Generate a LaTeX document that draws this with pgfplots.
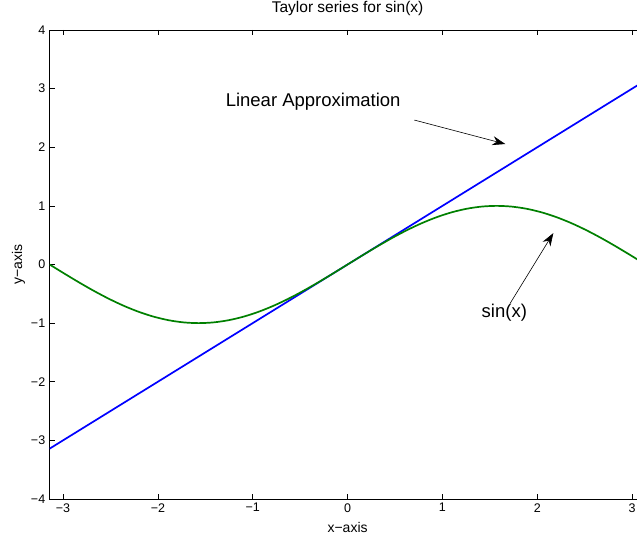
\documentclass[border=0pt]{standalone}
\usepackage{fontspec}
\setmainfont{Liberation Sans}
\usepackage{pgfplots}
\pgfplotsset{compat=1.18}
\usetikzlibrary{calc,arrows.meta}

\definecolor{mgreen}{rgb}{0,0.5,0}

\begin{document}
\fontsize{12.5}{14}\selectfont
\begin{tikzpicture}
\begin{axis}[
    name=ax,
    scale only axis,
    width=596pt, height=469pt,
    xmin=-3.14159, xmax=3.14159,
    ymin=-4, ymax=4,
    xtick={-3,-2,-1,0,1,2,3},
    xticklabels={−3,−2,−1,0,1,2,3},
    ytick={-4,-3,-2,-1,0,1,2,3,4},
    yticklabels={−4,−3,−2,−1,0,1,2,3,4},
    tick align=inside,
    major tick length=5pt,
    tick style={black, line width=0.7pt},
    axis line style={line width=0.8pt},
    ticklabel style={font=\fontsize{12.5}{14}\selectfont},
    title={\fontsize{15.5}{17}\selectfont Taylor series for sin(x)},
    title style={at={(axis description cs:0.5,1)}, anchor=base, yshift=11.5pt, font=\fontsize{15.5}{17}\selectfont},
    xlabel={x−axis},
    ylabel={y−axis},
    xlabel style={at={(axis description cs:0.5,-0.06)}, anchor=center, font=\fontsize{14}{16}\selectfont},
    ylabel style={at={(axis description cs:-0.052,0.5)}, anchor=center, font=\fontsize{14}{16}\selectfont},
    clip=true,
]
% linear approximation y = x
\addplot[blue, line width=1.7pt] coordinates {(-3.14159,-3.14159) (3.14159,3.14159)};
% sin(x)
\addplot[mgreen, line width=1.7pt, smooth] coordinates {
(-3.1416,0) (-2.9845,-0.15643) (-2.8274,-0.30902) (-2.6704,-0.45399)
(-2.5133,-0.58779) (-2.3562,-0.70711) (-2.1991,-0.80902) (-2.0420,-0.89101)
(-1.8850,-0.95106) (-1.7279,-0.98769) (-1.5708,-1) (-1.4137,-0.98769)
(-1.2566,-0.95106) (-1.0996,-0.89101) (-0.9425,-0.80902) (-0.7854,-0.70711)
(-0.6283,-0.58779) (-0.4712,-0.45399) (-0.3142,-0.30902) (-0.1571,-0.15643)
(0,0)
(0.1571,0.15643) (0.3142,0.30902) (0.4712,0.45399) (0.6283,0.58779)
(0.7854,0.70711) (0.9425,0.80902) (1.0996,0.89101) (1.2566,0.95106)
(1.4137,0.98769) (1.5708,1) (1.7279,0.98769) (1.8850,0.95106)
(2.0420,0.89101) (2.1991,0.80902) (2.3562,0.70711) (2.5133,0.58779)
(2.6704,0.45399) (2.8274,0.30902) (2.9845,0.15643) (3.1416,0)
};
\node[font=\fontsize{18.5}{20}\selectfont] at (axis cs:-0.363,2.771) {Linear Approximation};
\draw[-{Stealth[length=13pt,width=9pt]}, line width=0.6pt] (axis cs:0.703,2.464) -- (axis cs:1.663,2.055);
\node[font=\fontsize{18.5}{20}\selectfont] at (axis cs:1.652,-0.829) {sin(x)};
\draw[-{Stealth[length=13pt,width=9pt]}, line width=0.6pt] (axis cs:1.715,-0.659) -- (axis cs:2.169,0.536);
\end{axis}
\pgfresetboundingbox
\path[use as bounding box] ($(ax.south west)+(-49.6pt,-37pt)$) rectangle ($(ax.north west)+(587.4pt,30pt)$);
\end{tikzpicture}
\end{document}
